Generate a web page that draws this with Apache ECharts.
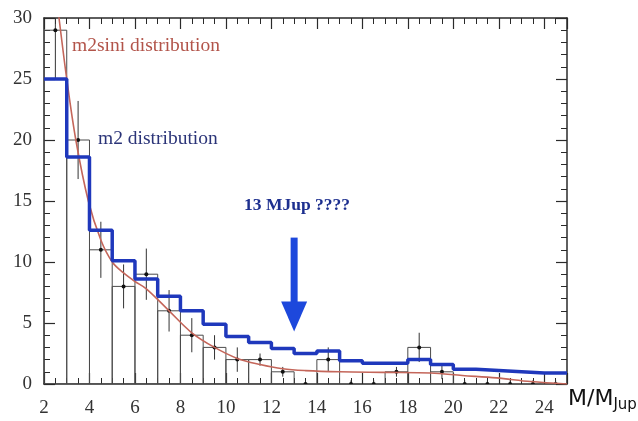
<!DOCTYPE html>
<html>
<head>
<meta charset="utf-8">
<script src="https://cdn.jsdelivr.net/npm/echarts@6/dist/echarts.min.js"></script>
<style>html,body{margin:0;padding:0;background:#fff}#c{width:638px;height:421px}</style>
</head>
<body>
<div id="c"></div>
<script>
// Bin left edges (bins of width 1 in M/MJup)
const binStart = [2,3,4,5,6,7,8,9,10,11,12,13,14,15,16,17,18,19,20,21,22,23,24];
// Observed (m2 sin i) histogram counts and error bars
const observed    = [29,20,11,8,9,6,4,3,2,2,1,0,2,0,0,1,3,1,0,0,0,0,0];
const observedErr = [4,3.2,2.3,1.8,2.1,1.7,1.4,1.0,1.0,0.5,0.4,0.3,1.0,0.3,0.3,0.4,1.2,0.6,0.3,0.3,0.3,0.3,0.3];
// Deprojected m2 distribution (blue step histogram)
const m2Dist = [25,18.6,12.6,10.1,8.6,7.2,6.0,4.9,3.9,3.4,2.9,2.5,2.7,1.9,1.7,1.7,2.0,1.6,1.2,1.1,1.0,0.9,0.9];
// m2 sin i fitted distribution (red curve)
const fitX = [2.6,2.66,3.0,3.4,3.95,4.5,5.0,5.5,6.0,6.5,7.5,8.5,9.5,10.5,11.5,12.5,13.5,15,17,19,20.4,21.9,23.4,25];
const fitY = [31,30,25,20,15,11.8,10,9.1,8.4,7.8,6.0,4.2,3.0,2.1,1.6,1.25,1.1,1.0,0.95,0.9,0.7,0.5,0.2,0];
// Annotation arrow at 13 MJup: [x, top, tip]
const arrowX = [13];
const arrowTop = [12.0];
const arrowTip = [4.3];
const xTicks = [2,4,6,8,10,12,14,16,18,20,22,24];

const chart = echarts.init(document.getElementById('c'), null, {renderer:'canvas'});
const serif = '"Liberation Serif","DejaVu Serif",serif';
const axisCol = '#2a2a2a';

const stepData = binStart.map((b,i)=>[b, m2Dist[i]]);
stepData.push([binStart[binStart.length-1]+1, m2Dist[m2Dist.length-1]]);

const xCommon = {
  type:'value', min:2, max:25, interval:2, gridIndex:0,
  splitLine:{show:false},
  axisLine:{show:true, onZero:false, lineStyle:{color:axisCol, width:1.5}},
  axisTick:{show:true, inside:true, length:11, lineStyle:{color:axisCol, width:1.2}},
  minorTick:{show:true, splitNumber:4, length:6, lineStyle:{color:axisCol, width:1}},
};
const yCommon = {
  type:'value', min:0, max:30, interval:5, gridIndex:0,
  splitLine:{show:false},
  axisLine:{show:true, onZero:false, lineStyle:{color:axisCol, width:1.5}},
  axisTick:{show:true, inside:true, length:11, lineStyle:{color:axisCol, width:1.2}},
  minorTick:{show:true, splitNumber:5, length:6, lineStyle:{color:axisCol, width:1}},
};

const option = {
  backgroundColor:'#ffffff',
  animation:false,
  grid:{left:44, right:71, top:18, bottom:37, containLabel:false},
  xAxis:[
    Object.assign({}, xCommon, {position:'bottom',
      axisLabel:{show:true, showMaxLabel:false, margin:15, fontFamily:serif, fontSize:19, color:'#333',
        formatter:(v)=> xTicks.indexOf(v)>=0 ? String(v) : ''}}),
    Object.assign({}, xCommon, {position:'top', axisLabel:{show:false}})
  ],
  yAxis:[
    Object.assign({}, yCommon, {position:'left',
      axisLabel:{show:true, margin:12, fontFamily:serif, fontSize:19, color:'#333'}}),
    Object.assign({}, yCommon, {position:'right', axisLabel:{show:false}})
  ],
  series:[
    {
      type:'custom', name:'observed', xAxisIndex:0, yAxisIndex:0, clip:true, z:2,
      data: binStart.map((b,i)=>[b, observed[i]]),
      renderItem:(params, api)=>{
        const x0 = api.value(0), v = api.value(1);
        if (v <= 0) return null;
        const p0 = api.coord([x0, 0]);
        const p1 = api.coord([x0+1, v]);
        return {type:'rect', shape:{x:p0[0], y:p1[1], width:p1[0]-p0[0], height:p0[1]-p1[1]},
          style:{fill:'none', stroke:'#4a4a4a', lineWidth:1}};
      }
    },
    {
      type:'custom', name:'errors', xAxisIndex:0, yAxisIndex:0, clip:true, z:3,
      data: binStart.map((b,i)=>[b+0.5, observed[i], observedErr[i]]),
      renderItem:(params, api)=>{
        const x = api.value(0), v = api.value(1), e = api.value(2);
        const lo = api.coord([x, Math.max(0, v-e)]);
        const hi = api.coord([x, v+e]);
        const c = api.coord([x, v]);
        return {type:'group', children:[
          {type:'line', shape:{x1:lo[0], y1:lo[1], x2:hi[0], y2:hi[1]}, style:{stroke:'#333', lineWidth:1}},
          {type:'circle', shape:{cx:c[0], cy:c[1], r:2}, style:{fill:'#111'}}
        ]};
      }
    },
    {
      type:'line', name:'m2sini fit', xAxisIndex:0, yAxisIndex:0, clip:true, z:4,
      data: fitX.map((x,i)=>[x, fitY[i]]),
      smooth:0.35, showSymbol:false, symbol:'none',
      lineStyle:{color:'#c4665a', width:1.6}
    },
    {
      type:'line', name:'m2 distribution', xAxisIndex:0, yAxisIndex:0, clip:true, z:5,
      data: stepData, step:'end', showSymbol:false, symbol:'none',
      lineStyle:{color:'#1f38bc', width:3.5}
    },
    {
      type:'custom', name:'arrow', xAxisIndex:0, yAxisIndex:0, clip:false, z:6,
      data: arrowX.map((x,i)=>[x, arrowTop[i], arrowTip[i]]),
      renderItem:(params, api)=>{
        const x = api.value(0);
        const top = api.coord([x, api.value(1)]);
        const tip = api.coord([x, api.value(2)]);
        const headLen = 30, headHalf = 13, shaftHalf = 3.5;
        const base = tip[1] - headLen;
        return {type:'group', children:[
          {type:'rect', shape:{x:top[0]-shaftHalf, y:top[1], width:shaftHalf*2, height:base-top[1]+1}, style:{fill:'#1d48dc'}},
          {type:'polygon', shape:{points:[[tip[0]-headHalf, base],[tip[0]+headHalf, base],[tip[0], tip[1]]]}, style:{fill:'#1d48dc'}}
        ]};
      }
    }
  ],
  graphic:[
    {type:'text', left:72, top:36, style:{text:'m2sini distribution', font:'19.5px '+serif, fill:'#b2544a'}},
    {type:'text', left:98, top:129, style:{text:'m2 distribution', font:'19.5px '+serif, fill:'#2b3478'}},
    {type:'text', left:244, top:196, style:{text:'13 MJup ????', font:'bold 17.5px '+serif, fill:'#1d2f8f'}},
    {type:'text', left:568, top:388, style:{
      text:'M/M{s|Jup}', font:'22px "DejaVu Sans",sans-serif', fill:'#111',
      rich:{s:{font:'15px "DejaVu Sans",sans-serif', fill:'#111', padding:[12,0,0,0]}}}}
  ]
};
chart.setOption(option);
</script>
</body>
</html>
